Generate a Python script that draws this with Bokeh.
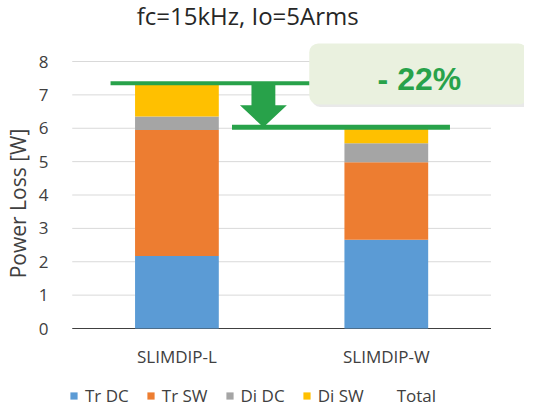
from bokeh.plotting import figure
from bokeh.models import ColumnDataSource, Range1d, FixedTicker, Legend, LegendItem, BoxAnnotation, Label
from bokeh.core.properties import value
from bokeh.embed import file_html
from bokeh.resources import INLINE

# data
categories = ["SLIMDIP-L", "SLIMDIP-W"]
series = ["Tr DC", "Tr SW", "Di DC", "Di SW"]
tr_dc = [2.17, 2.66]
tr_sw = [3.78, 2.32]
di_dc = [0.40, 0.57]
di_sw = [1.00, 0.48]
y_ticks = [0, 1, 2, 3, 4, 5, 6, 7, 8]
title_text = "fc=15kHz, Io=5Arms"
badge_text = "- 22%"

colors = ["#5B9BD5", "#ED7D31", "#A5A5A5", "#FFC000"]
green = "#28A24A"
font = "Open Sans"

xs = [i + 0.5 for i in range(len(categories))]
totals = [a + b + c + d for a, b, c, d in zip(tr_dc, tr_sw, di_dc, di_sw)]

source = ColumnDataSource(data={"x": xs, "Tr DC": tr_dc, "Tr SW": tr_sw,
                                "Di DC": di_dc, "Di SW": di_sw, "total": totals})

p = figure(width=524, height=406, output_backend="svg", toolbar_location=None,
           x_range=Range1d(-0.0274, 2.16), y_range=Range1d(-2.337, 9.828),
           min_border_left=45, min_border_right=0, min_border_top=0, min_border_bottom=0)
p.outline_line_color = None
p.xaxis.visible = False
p.grid.visible = False

p.yaxis.ticker = FixedTicker(ticks=y_ticks)
p.yaxis.axis_line_color = None
p.yaxis.major_tick_line_color = None
p.yaxis.minor_tick_line_color = None
p.yaxis.major_tick_out = 0
p.yaxis.major_label_standoff = 18
p.yaxis.major_label_text_font = font
p.yaxis.major_label_text_font_size = "17px"
p.yaxis.major_label_text_color = "#404040"
p.yaxis.axis_label = "Power Loss [W]"
p.yaxis.axis_label_text_font = font
p.yaxis.axis_label_text_font_size = "21px"
p.yaxis.axis_label_text_font_style = "normal"
p.yaxis.axis_label_text_color = "#404040"
p.yaxis.axis_label_standoff = 4

# gridlines and baseline, only over the two categories
grid_src = ColumnDataSource(data={"y": y_ticks[1:]})
p.segment(x0=0, x1=len(categories), y0="y", y1="y", source=grid_src, line_color="#D9D9D9", line_width=1)
p.segment(x0=0, x1=len(categories), y0=0, y1=0, line_color="#404040", line_width=1.2)

bars = p.vbar_stack(series, x="x", width=0.4, color=colors, line_color=None, source=source)
total_line = p.line(x="x", y="total", source=source, line_alpha=0)

# category labels
p.text(x=xs, y=[-0.84] * len(xs), text=categories, text_align="center", text_baseline="middle",
       text_font=value(font), text_font_size="17px", text_color="#404040")

# title
p.text(x=[0.838], y=[9.385], text=[title_text], text_align="center", text_baseline="middle",
       text_font=value(font), text_font_size="24px", text_color="#262626")

# reduction marker
hi, lo = totals[0], totals[1]
p.segment(x0=0.183, x1=1.15, y0=hi, y1=hi, line_color=green, line_width=4)
p.segment(x0=0.763, x1=1.804, y0=lo, y1=lo, line_color=green, line_width=5)
cx, stem, head, head_len = 0.913, 0.057, 0.112, 0.66
p.patch(x=[cx - stem, cx + stem, cx + stem, cx + head, cx, cx - head, cx - stem],
        y=[hi, hi, lo + head_len, lo + head_len, lo, lo + head_len, lo + head_len],
        fill_color=green, line_color=None)

p.add_layout(BoxAnnotation(left=1.142, right=2.2, top=8.47, bottom=6.64, fill_color="#BFBFBF",
                           fill_alpha=0.35, line_color=None, border_radius=9))
p.add_layout(BoxAnnotation(left=1.132, right=2.174, top=8.54, bottom=6.71, fill_color="#EAF1DF",
                           fill_alpha=1, line_color=None, border_radius=9))
p.add_layout(Label(x=1.658, y=7.49, text=badge_text, text_align="center", text_baseline="middle",
                   text_font="Liberation Sans", text_font_style="bold", text_font_size="32px",
                   text_color=green))

items = [LegendItem(label=s, renderers=[r]) for s, r in zip(series, bars)]
items.append(LegendItem(label="Total", renderers=[total_line]))
legend = Legend(items=items, orientation="horizontal", location=(3, -1),
                glyph_width=9, glyph_height=9, label_standoff=7, spacing=17,
                padding=0, margin=0, border_line_color=None, background_fill_alpha=0,
                label_text_font=font, label_text_font_size="17px", label_text_color="#404040")
p.add_layout(legend)

open("out.html", "w").write(file_html(p, INLINE))
